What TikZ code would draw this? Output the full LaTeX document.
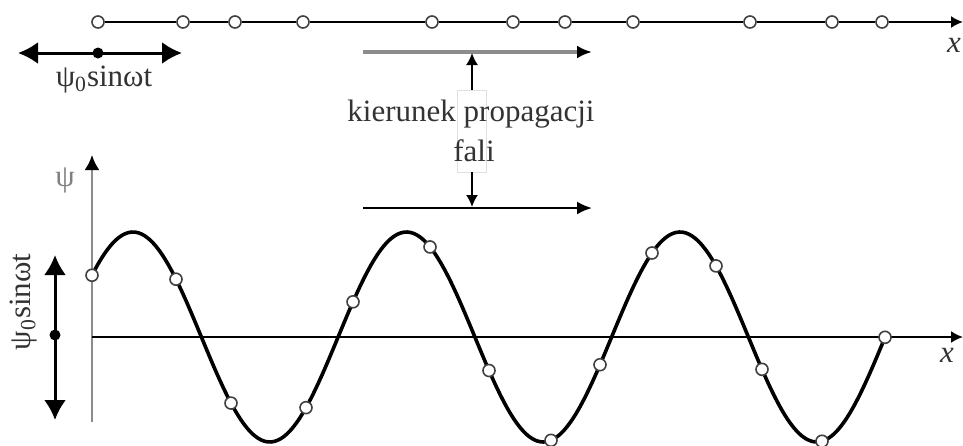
\documentclass[tikz,border=0pt]{standalone}
\usepackage{fontspec}
\setmainfont{Liberation Serif}
\usetikzlibrary{arrows.meta}

\begin{document}
\begin{tikzpicture}[x=0.5pt,y=-0.5pt,
		bead/.style={circle,draw=black!75,fill=white,line width=0.8pt,minimum size=6pt,inner sep=0pt},
		blob/.style={circle,fill=black,minimum size=5.5pt,inner sep=0pt},
		lbl/.style={font=\fontsize{15.5}{18.5}\selectfont,text=black!80,inner sep=0pt},
		bigarr/.style={{Latex[length=10pt,width=11pt]}-{Latex[length=10pt,width=11pt]},line width=1.5pt},
		smallarr/.style={-{Latex[length=6pt,width=6pt]},line width=0.9pt},
		declare function={wave(\t)=337-105*cos((\t-133)/273.5*360);}]
			\useasboundingbox (0,0) rectangle (963,445);
			\foreach \x [count=\i] in {98,183,235,303,432,513,565,633,750,832,882}
				\node[bead] (t\i) at (\x,22) {};
			\foreach \i [evaluate=\i as \j using int(\i+1)] in {1,...,10}
				\draw[line width=1pt] (t\i) -- (t\j);
			\coordinate (topend) at (963,22);
			\draw[line width=1pt,-{Latex[length=6pt,width=6pt]}] (t11) -- (topend);
			\node[lbl] (xtop) at (954,45) {\textit{x}};
			\coordinate (left1) at (18,53);
			\coordinate (right1) at (182,53);
			\draw[bigarr] (left1) -- (right1);
			\node[blob] (mid1) at (98,53) {};
			\node[lbl] (amp1) at (104,80) {ψ\textsubscript{0}sinωt};
			\coordinate (ga) at (363,52);
			\coordinate (gb) at (592,52);
			\draw[line width=2pt,black!45,-{Latex[length=7.5pt,width=6.5pt,color=black]}] (ga) -- (gb);
			\coordinate (ha) at (363,208);
			\coordinate (hb) at (592,208);
			\draw[line width=1.1pt,-{Latex[length=7.5pt,width=6.5pt]}] (ha) -- (hb);
			\node[draw=black!12,line width=0.4pt,minimum width=14.5pt,minimum height=41pt,inner sep=0pt] (gap) at (472,131) {};
			\coordinate (gtop) at (472,53);
			\coordinate (gbot) at (472,207);
			\draw[smallarr] (gap.north) -- (gtop);
			\draw[smallarr] (gap.south) -- (gbot);
			\node[lbl] (prop) at (471,114) {kierunek propagacji};
			\node[lbl] (fali) at (474,151) {fali};
			\coordinate (yb) at (92,422);
			\coordinate (ye) at (92,155);
			\draw[line width=1.2pt,black!45,-{Latex[length=7.5pt,width=7.5pt,color=black]}] (yb) -- (ye);
			\node[lbl,text=black!50] (psi) at (65,180) {ψ};
			\coordinate (xb) at (92,337);
			\coordinate (xe) at (963,337);
			\draw[line width=1pt,-{Latex[length=6pt,width=6pt]}] (xb) -- (xe);
			\node[lbl] (xbot) at (947,355) {\textit{x}};
			\coordinate (up2) at (55,255);
			\coordinate (down2) at (55,420);
			\draw[bigarr] (up2) -- (down2);
			\node[blob] (mid2) at (55,335) {};
			\node[lbl,rotate=90] (amp2) at (24,302) {ψ\textsubscript{0}sinωt};
			\draw[line width=1.8pt] plot[domain=92:885,samples=240,smooth] (\x,{wave(\x)});
			\foreach \x [count=\i] in {92,176,231,306,353,430,489,551,600,652,716,762,822,885}
				\node[bead] (w\i) at (\x,{wave(\x)}) {};
		\end{tikzpicture}
\end{document}
